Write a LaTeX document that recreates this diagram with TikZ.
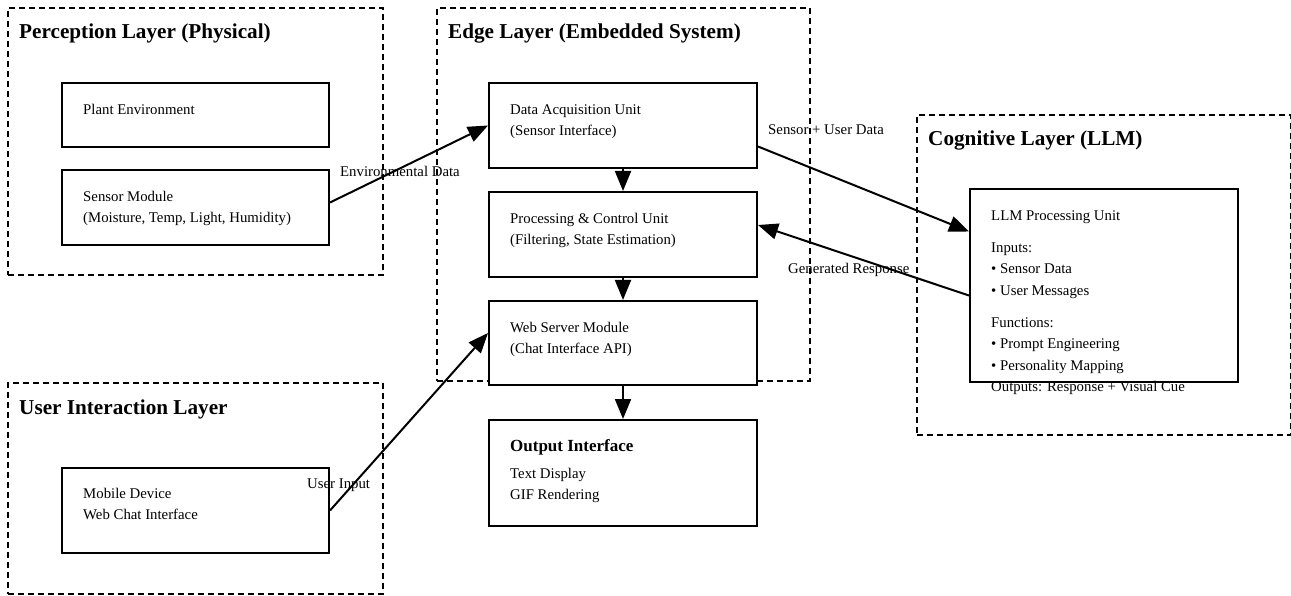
\documentclass[tikz,border=0pt]{standalone}
\usepackage{fontspec}
\setmainfont{Liberation Serif}
\usepackage{tikz}
\usetikzlibrary{arrows.meta,positioning}

\begin{document}
\begin{tikzpicture}[x=1pt,y=-1pt,
    layerbox/.style={draw,line width=2pt,dash pattern=on 6pt off 4pt,anchor=north west,inner sep=0pt},
    block/.style={draw,fill=white,line width=2pt,anchor=north west,inner sep=0pt,minimum width=268pt},
    layertitle/.style={anchor=base west,inner sep=0pt,font=\fontsize{21.2}{25}\selectfont\bfseries},
    blocktitle/.style={anchor=base west,inner sep=0pt,font=\fontsize{17}{20}\selectfont\bfseries},
    body/.style={anchor=north west,inner sep=0pt,align=left,font=\fontsize{14.8}{21.5}\selectfont},
    lbl/.style={anchor=base west,inner sep=0pt,font=\fontsize{14.8}{21.5}\selectfont},
    flow/.style={line width=2pt,-{Triangle[length=20pt,width=16pt]}}]
    \useasboundingbox (0,0) rectangle (1291,596);

    \node[layerbox,minimum width=375pt,minimum height=267pt] (perception) at (7,7) {};
    \node[layerbox,minimum width=373pt,minimum height=373pt] (edge) at (436,7) {};
    \node[layerbox,minimum width=374pt,minimum height=320pt] (cognitive) at (916,114) {};
    \node[layerbox,minimum width=375pt,minimum height=211pt] (interaction) at (7,382) {};

    \node[layertitle] (perceptiontitle) at ([shift={(12,32)}]perception.north west) {Perception Layer (Physical)};
    \node[layertitle] (edgetitle) at ([shift={(12,32)}]edge.north west) {Edge Layer (Embedded System)};
    \node[layertitle] (cognitivetitle) at ([shift={(12,32)}]cognitive.north west) {Cognitive Layer (LLM)};
    \node[layertitle] (interactiontitle) at ([shift={(12,32)}]interaction.north west) {User Interaction Layer};

    \node[block,minimum width=267pt,minimum height=64pt] (plant) at (61,82) {};
    \node[block,minimum width=267pt,minimum height=75pt,below=21pt of plant] (sensor) {};
    \node[block,minimum height=85pt] (daq) at (488,82) {};
    \node[block,minimum height=85pt,below=22pt of daq] (proc) {};
    \node[block,minimum height=84pt,below=22pt of proc] (web) {};
    \node[block,minimum height=106pt,below=33pt of web] (output) {};
    \node[block,minimum height=193pt] (llm) at (969,188) {};
    \node[block,minimum width=267pt,minimum height=85pt] (mobile) at (61,467) {};

    \node[body] (planttext) at ([shift={(22,17)}]plant.north west) {\strut Plant Environment};
    \node[body] (sensortext) at ([shift={(22,17)}]sensor.north west) {\strut Sensor Module\\(Moisture, Temp, Light, Humidity)};
    \node[body] (daqtext) at ([shift={(22,17)}]daq.north west) {\strut Data Acquisition Unit\\(Sensor Interface)};
    \node[body] (proctext) at ([shift={(22,17)}]proc.north west) {\strut Processing \& Control Unit\\(Filtering, State Estimation)};
    \node[body] (webtext) at ([shift={(22,17)}]web.north west) {\strut Web Server Module\\(Chat Interface API)};
    \node[blocktitle] (outputtitle) at ([shift={(22,32)}]output.north west) {Output Interface};
    \node[body] (outputtext) at ([shift={(22,44)}]output.north west) {\strut Text Display\\GIF Rendering};
    \node[body] (llmtext) at ([shift={(22,17)}]llm.north west) {\strut LLM Processing Unit\\[10.5pt]
        Inputs:\\\textbullet\ Sensor Data\\\textbullet\ User Messages\\[10.5pt]
        Functions:\\\textbullet\ Prompt Engineering\\\textbullet\ Personality Mapping\\
        Outputs: Response + Visual Cue};
    \node[body] (mobiletext) at ([shift={(22,16)}]mobile.north west) {\strut Mobile Device\\Web Chat Interface};

    \draw[flow] ([yshift=5pt]sensor.east) -- (daq.west);
    \draw[flow] ([yshift=-21pt]daq.east) -- ([yshift=54pt]llm.west);
    \draw[flow] ([yshift=-10pt]llm.west) -- ([yshift=9.5pt]proc.east);
    \draw[flow] (mobile.east) -- ([yshift=10pt]web.west);
    \draw[flow] (daq.south) -- (proc.north);
    \draw[flow] (proc.south) -- (web.north);
    \draw[flow] (web.south) -- (output.north);

    \node[lbl] (envlabel) at (340,177) {Environmental Data};
    \node[lbl] (uplinklabel) at (768,135) {Sensor + User Data};
    \node[lbl] (responselabel) at (788,274) {Generated Response};
    \node[lbl] (inputlabel) at (307,488) {User Input};
\end{tikzpicture}
\end{document}
